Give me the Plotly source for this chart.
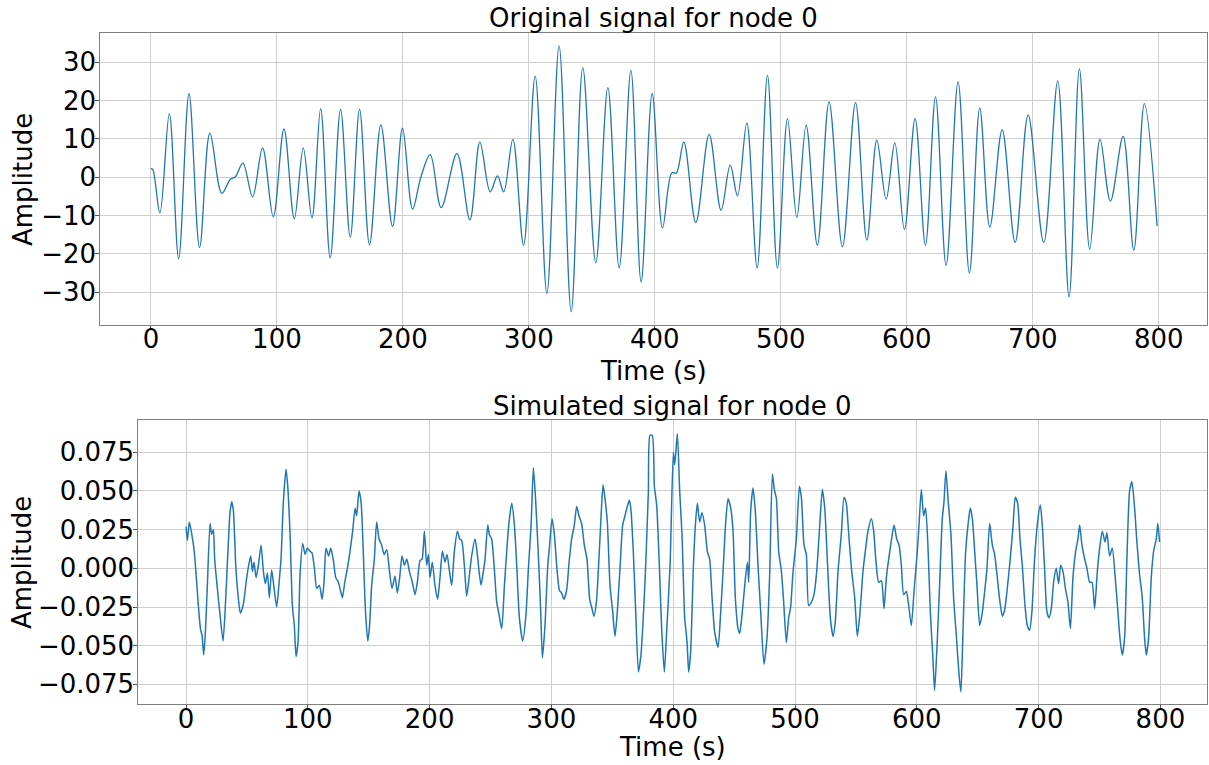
import plotly.graph_objects as go

# ---------------- data ----------------
orig_time = [0, 1.5, 7.1, 14.6, 22.0, 30.2, 38.6, 46.8, 56.3, 63.0, 67.0, 73.0, 80.7, 88.6,
             97.1, 105.6, 113.8, 120.9, 127.8, 134.7, 142.3, 150.5, 158.2, 165.6, 173.5,
             182.5, 191.8, 199.7, 207.7, 214.3, 221.7, 230.4, 242.9, 253.2, 261.1, 269.3,
             275.1, 280.0, 287.3, 295.8, 305.0, 314.3, 324.0, 333.6, 342.8, 353.1, 362.7,
             371.7, 381.0, 389.1, 397.9, 406.1, 413.5, 417.0, 423.0, 432.5, 443.1, 452.6,
             459.8, 465.6, 473.0, 481.2, 489.4, 497.3, 505.3, 512.7, 520.1, 529.0, 538.3,
             548.9, 559.3, 568.3, 576.2, 583.6, 590.5, 598.1, 606.6, 614.8, 622.8, 631.2,
             640.7, 649.7, 657.9, 665.9, 675.7, 686.0, 696.3, 708.7, 719.8, 728.8, 737.0,
             745.2, 753.4, 761.6, 771.7, 780.2, 788.6, 798.7]
orig_amp = [2.3, 2.0, -9.3, 16.6, -21.2, 21.8, -18.3, 11.5, -4.2, -0.5, 0.1, 3.7, -5.1, 7.7,
            -10.3, 12.6, -10.8, 7.7, -10.6, 17.9, -21.0, 17.7, -15.6, 17.7, -17.6,
            13.7, -12.8, 12.8, -8.3, 0.1, 5.9, -7.9, 6.2, -11.1, 9.2, -3.8,
            0.4, -3.8, 9.9, -17.7, 26.4, -30.3, 34.3, -35.1, 28.6, -22.3, 23.4,
            -23.6, 27.9, -27.3, 21.8, -13.2, 1.2, 1.1, 9.2, -11.8, 11.2, -8.6,
            3.2, -4.8, 14.2, -23.6, 26.6, -23.7, 15.3, -10.5, 13.6, -17.7, 19.7,
            -18.1, 19.5, -16.4, 9.7, -5.7, 9.0, -13.6, 15.3, -17.7, 21.0, -23.0,
            24.9, -25.0, 18.1, -13.0, 12.4, -17.0, 16.2, -17.0, 25.1, -31.2, 28.3,
            -18.8, 9.9, -6.2, 10.7, -19.0, 19.2, -12.7]

sim_time = [0, 1.1, 2.7, 4.7, 6.6, 7.9, 10.1, 12.0, 13.1, 14.5, 15.9, 17.5, 19.7, 21.0, 22.4,
            23.5, 25.7, 27.9, 30.4, 32.6, 34.5, 36.1, 37.5, 38.9, 40.8, 43.0, 44.6, 47.1,
            49.3, 51.2, 53.1, 54.5, 55.8, 57.5, 59.4, 61.6, 63.5, 65.1, 66.8, 68.4, 70.3,
            72.3, 74.4, 76.4, 78.0, 79.9, 82.1, 83.5, 85.4, 87.3, 88.9, 90.3, 92.0, 93.6,
            95.8, 97.7, 99.6, 101.8, 103.4, 105.4, 107.3, 109.5, 111.7, 113.3, 114.9,
            117.1, 118.8, 121.0, 122.9, 125.1, 127.0, 128.4, 130.3, 132.5, 134.6, 136.8,
            138.8, 140.1, 142.0, 143.7, 145.6, 147.2, 149.2, 150.5, 152.4, 154.6, 156.5,
            158.5, 160.6, 162.6, 164.8, 166.9, 169.1, 171.6, 173.5, 175.4, 177.3, 179.3,
            181.2, 183.4, 185.8, 188.0, 189.9, 192.1, 193.8, 195.7, 197.6, 199.0, 200.3,
            202.2, 204.4, 206.6, 208.5, 210.5, 212.6, 214.3, 216.3, 218.1, 220.3, 222.8,
            224.7, 226.3, 228.5, 230.4, 232.4, 234.5, 237.3, 238.9, 240.6, 242.2, 244.1,
            245.5, 247.7, 249.0, 250.9, 252.9, 255.1, 257.0, 259.2, 261.4, 263.3, 265.2,
            267.4, 269.6, 271.5, 273.7, 276.4, 279.0, 281.1, 283.3, 285.2, 287.1, 289.4,
            291.2, 292.6, 294.7, 297.0, 298.3, 300.5, 302.4, 304.3, 306.5, 308.4, 310.3,
            312.5, 314.4, 316.6, 318.8, 320.7, 322.6, 324.8, 327.0, 329.2, 331.4, 333.0,
            334.9, 336.9, 339.0, 340.9, 342.4, 344.0, 345.9, 348.1, 350.3, 352.2, 354.1,
            356.3, 358.5, 360.4, 362.3, 364.0, 365.3, 367.2, 369.2, 371.4, 373.5, 375.4,
            377.4, 379.6, 380.9, 382.8, 384.5, 386.4, 388.6, 390.5, 392.7, 394.6, 397.4,
            400.1, 401.2, 403.4, 405.3, 407.2, 409.4, 411.3, 412.7, 414.3, 416.5, 418.2,
            419.8, 421.7, 423.6, 425.8, 428.0, 429.9, 431.9, 434.0, 436.8, 439.0, 440.9,
            443.1, 445.0, 447.2, 449.1, 451.0, 453.2, 454.6, 456.5, 458.7, 460.9, 462.0,
            463.6, 465.5, 467.4, 469.6, 471.8, 474.5, 477.0, 479.2, 481.4, 483.0, 484.7,
            486.6, 488.8, 490.7, 492.9, 494.8, 496.4, 498.4, 501.1, 503.6, 505.2, 507.4,
            509.3, 511.2, 513.4, 515.6, 517.8, 520.3, 522.4, 524.4, 526.5, 529.0, 531.2,
            533.1, 535.3, 538.0, 540.2, 542.1, 544.1, 546.3, 549.0, 551.2, 553.4, 555.8,
            557.7, 559.9, 562.7, 564.6, 566.5, 568.7, 570.9, 573.1, 575.0, 576.9, 579.1,
            581.3, 583.5, 585.4, 587.3, 589.2, 591.4, 593.3, 595.5, 597.7, 600.4, 601.8,
            603.7, 605.6, 607.2, 609.1, 611.1, 613.2, 614.6, 616.5, 618.7, 620.9, 622.3,
            623.9, 625.8, 628.0, 630.2, 632.4, 634.6, 636.2, 637.9, 640.1, 642.3, 643.9,
            645.6, 647.5, 649.4, 651.6, 653.5, 655.7, 657.6, 659.8, 662.0, 663.9, 665.8,
            668.0, 670.2, 672.1, 674.0, 676.2, 678.9, 680.8, 682.8, 684.7, 686.6, 688.8,
            690.7, 692.6, 694.5, 696.7, 698.9, 701.4, 703.0, 704.9, 706.8, 708.5, 710.4,
            712.3, 714.5, 716.4, 718.1, 720.0, 722.2, 724.1, 726.1, 728.2, 730.4, 732.3,
            733.7, 735.6, 737.8, 739.7, 741.9, 743.8, 746.0, 748.2, 750.1, 752.3, 754.5,
            756.1, 758.3, 760.5, 762.9, 765.1, 767.0, 768.7, 770.6, 772.5, 774.7, 776.6,
            778.8, 780.7, 782.9, 785.1, 787.0, 788.4, 790.3, 792.5, 794.4, 796.6, 797.9,
            799.3]
sim_amp = [0.027, 0.018, 0.030, 0.022, 0.012, 0.000, -0.024, -0.040, -0.043, -0.056, -0.041,
           -0.011, 0.029, 0.022, 0.025, 0.006, -0.013, -0.030, -0.047, -0.019, 0.013, 0.036,
           0.043, 0.037, 0.002, -0.020, -0.029, -0.023, -0.009, 0.001, 0.008, -0.002, 0.004,
           -0.006, 0.002, 0.015, -0.002, -0.010, -0.003, -0.019, -0.001, -0.013, -0.025,
           -0.009, 0.006, 0.043, 0.064, 0.053, 0.022, -0.024, -0.037, -0.057, -0.047,
           -0.004, 0.016, 0.009, 0.013, 0.011, 0.010, 0.000, -0.013, -0.011, -0.020, -0.009,
           0.013, 0.008, 0.013, 0.005, -0.006, -0.009, -0.015, -0.019, -0.009, 0.000, 0.011,
           0.024, 0.039, 0.034, 0.050, 0.043, 0.009, -0.026, -0.047, -0.039, -0.011, 0.006,
           0.030, 0.019, 0.015, 0.009, 0.012, -0.001, -0.013, -0.005, -0.016, -0.006, 0.008,
           0.002, 0.006, -0.002, -0.009, -0.017, -0.009, 0.005, 0.006, 0.024, 0.002, 0.009,
           -0.006, 0.004, -0.011, -0.020, -0.006, 0.011, 0.004, 0.009, -0.002, -0.011, 0.011,
           0.024, 0.019, 0.018, 0.002, -0.018, -0.006, 0.008, 0.019, 0.011, -0.002, -0.011,
           -0.002, 0.006, 0.028, 0.022, 0.019, 0.002, -0.022, -0.030, -0.039, -0.011, 0.011,
           0.030, 0.042, 0.028, 0.002, -0.032, -0.047, -0.031, 0.000, 0.028, 0.065, 0.043,
           0.006, -0.028, -0.058, -0.037, 0.002, 0.013, 0.032, 0.022, 0.002, -0.014, -0.016,
           -0.020, -0.014, 0.003, 0.019, 0.028, 0.040, 0.034, 0.029, 0.015, 0.006, -0.020,
           -0.025, -0.031, -0.022, 0.006, 0.036, 0.054, 0.045, 0.030, -0.011, -0.028,
           -0.044, -0.028, 0.000, 0.028, 0.034, 0.040, 0.044, 0.038, 0.011, -0.028, -0.067,
           -0.056, -0.032, 0.002, 0.050, 0.086, 0.086, 0.053, 0.041, 0.002, -0.039, -0.067,
           -0.041, 0.002, 0.075, 0.067, 0.087, 0.050, 0.022, -0.032, -0.047, -0.067, -0.054,
           0.000, 0.028, 0.042, 0.030, 0.036, 0.028, 0.011, 0.006, -0.019, -0.041, -0.051,
           -0.028, -0.002, 0.030, 0.045, 0.039, 0.024, -0.019, -0.039, -0.042, -0.030,
           -0.011, 0.004, -0.009, 0.037, 0.052, 0.037, 0.002, -0.028, -0.062, -0.045,
           -0.004, 0.061, 0.051, 0.045, 0.011, -0.002, -0.022, -0.048, -0.032, -0.025,
           -0.002, 0.019, 0.053, 0.046, 0.015, 0.009, -0.024, -0.022, -0.017, -0.002, 0.028,
           0.051, 0.039, 0.006, -0.032, -0.044, -0.034, -0.002, 0.022, 0.046, 0.042, 0.022,
           0.000, -0.019, -0.044, -0.028, -0.002, 0.011, 0.024, 0.032, 0.024, 0.004, -0.009,
           -0.008, -0.026, -0.006, 0.006, 0.018, 0.028, 0.019, 0.015, 0.002, -0.017, -0.015,
           -0.024, -0.037, -0.015, 0.011, 0.028, 0.051, 0.034, 0.039, 0.015, -0.028, -0.058,
           -0.079, -0.052, -0.011, 0.032, 0.043, 0.063, 0.043, 0.022, -0.019, -0.043, -0.068,
           -0.080, -0.041, 0.011, 0.030, 0.039, 0.032, 0.011, -0.011, -0.037, -0.030, -0.015,
           0.000, 0.029, 0.015, 0.009, -0.004, -0.020, -0.031, -0.027, -0.015, 0.002, 0.026,
           0.046, 0.042, 0.019, 0.002, -0.024, -0.037, -0.040, -0.028, 0.006, 0.028, 0.041,
           0.028, 0.000, -0.028, -0.032, -0.026, -0.009, 0.000, -0.010, 0.002, -0.002,
           -0.014, -0.022, -0.039, -0.006, 0.011, 0.019, 0.028, 0.015, 0.006, 0.000, -0.009,
           -0.009, -0.026, -0.002, 0.013, 0.024, 0.017, 0.023, 0.008, 0.013, -0.006, -0.028,
           -0.047, -0.056, -0.045, 0.006, 0.050, 0.056, 0.039, 0.017, -0.004, -0.019, -0.045,
           -0.056, -0.045, -0.006, 0.011, 0.019, 0.029, 0.017]

x_ticks = [0, 100, 200, 300, 400, 500, 600, 700, 800]
top_y_ticks = [-30, -20, -10, 0, 10, 20, 30]
bot_y_ticks = [-0.075, -0.050, -0.025, 0.000, 0.025, 0.050, 0.075]

titles = ["Original signal for node 0", "Simulated signal for node 0"]
x_label = "Time (s)"
y_label = "Amplitude"

# ---------------- figure ----------------
W, H = 1209, 765
LINE = "#1f77b4"
FONT = dict(family="DejaVu Sans", size=26, color="black")

fig = go.Figure()
fig.add_trace(go.Scatter(x=orig_time, y=orig_amp, mode="lines",
                         line=dict(color=LINE, width=1.3, shape="spline", smoothing=1.0),
                         xaxis="x", yaxis="y", showlegend=False))
fig.add_trace(go.Scatter(x=sim_time, y=sim_amp, mode="lines",
                         line=dict(color=LINE, width=1.5, shape="spline", smoothing=0.6),
                         xaxis="x2", yaxis="y2", showlegend=False))

common = dict(showgrid=True, gridcolor="#cfcfcf", gridwidth=1, zeroline=False,
              showline=True, linecolor="#7f7f7f", linewidth=1, mirror=True,
              ticks="outside", ticklen=4, tickcolor="#555555", tickwidth=1,
              tickfont=FONT, automargin=False)

fig.update_layout(
    width=W, height=H, margin=dict(l=0, r=0, t=0, b=0),
    paper_bgcolor="white", plot_bgcolor="white", template=None,
    font=FONT,
    xaxis=dict(domain=[100.3 / W, 1207 / W], range=[-40.2, 838.3],
               tickvals=x_ticks, anchor="y", ticklabelstandoff=-13, **common),
    yaxis=dict(domain=[1 - 325 / H, 1 - 32.5 / H], range=[-38.53, 37.78],
               tickvals=top_y_ticks, anchor="x", ticklabelstandoff=-6, **common),
    xaxis2=dict(domain=[138.3 / W, 1207.3 / W], range=[-39.2, 838.5],
                tickvals=x_ticks, anchor="y2", ticklabelstandoff=-13, **common),
    yaxis2=dict(domain=[1 - 704.3 / H, 1 - 420.3 / H], range=[-0.0879, 0.0957],
                tickvals=bot_y_ticks, tickformat=".3f", anchor="x2",
                ticklabelstandoff=-6, **common),
)

ann = [
    (titles[0], 653.5, 18, 0),
    (x_label, 653.5, 371, 0),
    (y_label, 23, 180, -90),
    (titles[1], 672.8, 406, 0),
    (x_label, 672.8, 747, 0),
    (y_label, 22, 563, -90),
]
for text, px, py, ang in ann:
    fig.add_annotation(text=text, x=px / W, y=1 - py / H, xref="paper", yref="paper",
                       showarrow=False, textangle=ang, font=FONT,
                       xanchor="center", yanchor="middle")

fig.write_html("out.html", config={"displayModeBar": False},
               post_script="document.body.style.margin='0';")
